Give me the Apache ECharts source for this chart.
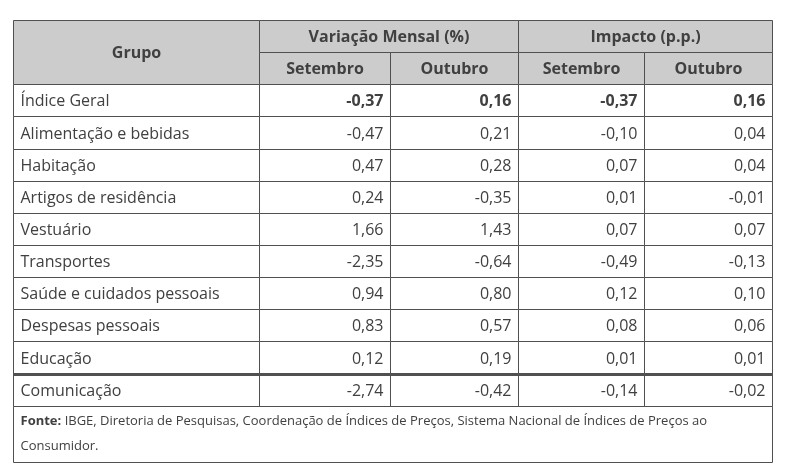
<!DOCTYPE html>
<html>
<head>
<meta charset="utf-8">
<script src="https://cdn.jsdelivr.net/npm/echarts@6/dist/echarts.min.js"></script>
<style>
html,body{margin:0;padding:0;background:#fff;}
#chart{width:788px;height:474px;}
</style>
</head>
<body>
<div id="chart"></div>
<script>
// ---- data ----
var categories = ['Índice Geral', 'Alimentação e bebidas', 'Habitação', 'Artigos de residência', 'Vestuário', 'Transportes', 'Saúde e cuidados pessoais', 'Despesas pessoais', 'Educação', 'Comunicação'];
var varSetembro = [-0.37, -0.47, 0.47, 0.24, 1.66, -2.35, 0.94, 0.83, 0.12, -2.74];
var varOutubro  = [0.16, 0.21, 0.28, -0.35, 1.43, -0.64, 0.80, 0.57, 0.19, -0.42];
var impSetembro = [-0.37, -0.10, 0.07, 0.01, 0.07, -0.49, 0.12, 0.08, 0.01, -0.14];
var impOutubro  = [0.16, 0.04, 0.04, -0.01, 0.07, -0.13, 0.10, 0.06, 0.01, -0.02];
var groupHeaders = ['Grupo', 'Variação Mensal (%)', 'Impacto (p.p.)'];
var monthHeaders = ['Setembro', 'Outubro'];
var sourceBold = 'Fonte:';
var sourceLines = [' IBGE, Diretoria de Pesquisas, Coordenação de Índices de Preços, Sistema Nacional de Índices de Preços ao', 'Consumidor.'];

// ---- layout (table units) ----
var colWidths = [246, 131, 128, 126, 128];
var rowHeights = [1, 1, 1, 1, 1, 1, 1, 1, 1, 1, 1, 1, 1.75];
var colEdges = [0]; colWidths.forEach(function (w) { colEdges.push(colEdges[colEdges.length - 1] + w); });
var rowEdges = [0]; rowHeights.forEach(function (h) { rowEdges.push(rowEdges[rowEdges.length - 1] + h); });

var FONT = 'Open Sans';
var HEAD_FILL = '#cccccc';
var TEXT = '#404040';
var BORDER = '#505050';

function fmt(v) { return v.toFixed(2).replace('.', ','); }

var cells = [];
function addCell(c0, c1, r0, r1, text, opts) {
  opts = opts || {};
  cells.push({ c0: c0, c1: c1, r0: r0, r1: r1, text: text, bold: !!opts.bold, align: opts.align || 'center', fill: opts.fill || '#ffffff', thickTop: !!opts.thickTop, footer: !!opts.footer });
}
// headers
addCell(0, 1, 0, 2, groupHeaders[0], { bold: true, fill: HEAD_FILL });
addCell(1, 3, 0, 1, groupHeaders[1], { bold: true, fill: HEAD_FILL });
addCell(3, 5, 0, 1, groupHeaders[2], { bold: true, fill: HEAD_FILL });
for (var k = 0; k < 4; k++) addCell(1 + k, 2 + k, 1, 2, monthHeaders[k % 2], { bold: true, fill: HEAD_FILL });
// body
var cols = [varSetembro, varOutubro, impSetembro, impOutubro];
categories.forEach(function (name, i) {
  var r = 2 + i;
  var bold = (i === 0);
  var thick = (i === categories.length - 1);
  addCell(0, 1, r, r + 1, name, { align: 'left', thickTop: thick });
  cols.forEach(function (arr, j) {
    addCell(1 + j, 2 + j, r, r + 1, fmt(arr[i]), { align: 'right', bold: bold, thickTop: thick });
  });
});
// footer
addCell(0, 5, 12, 13, '', { align: 'left', footer: true });

var seriesData = cells.map(function (c, i) {
  return [colEdges[c.c0], colEdges[c.c1], rowEdges[c.r0], rowEdges[c.r1], i];
});

function px(v) { return Math.round(v) + 0.5; }

var chart = echarts.init(document.getElementById('chart'), null, { renderer: 'canvas' });
chart.setOption({
  backgroundColor: '#ffffff',
  animation: false,
  grid: { left: 13, top: 20, right: 16, bottom: 12, containLabel: false },
  xAxis: { type: 'value', min: 0, max: colEdges[colEdges.length - 1], show: false },
  yAxis: { type: 'value', min: 0, max: rowEdges[rowEdges.length - 1], inverse: true, show: false },
  series: [{
    type: 'custom',
    coordinateSystem: 'cartesian2d',
    clip: false,
    data: seriesData,
    renderItem: function (params, api) {
      var c = cells[api.value(4)];
      var p0 = api.coord([api.value(0), api.value(2)]);
      var p1 = api.coord([api.value(1), api.value(3)]);
      var x0 = px(p0[0]), y0 = px(p0[1]), x1 = px(p1[0]), y1 = px(p1[1]);
      var children = [{
        type: 'rect',
        shape: { x: x0, y: y0, width: x1 - x0, height: y1 - y0 },
        style: { fill: c.fill, stroke: BORDER, lineWidth: 1 }
      }];
      if (c.thickTop) {
        children.push({
          type: 'line',
          shape: { x1: x0, y1: y0, x2: x1, y2: y0 },
          style: { stroke: BORDER, lineWidth: 3 }
        });
      }
      if (c.footer) {
        children.push({
          type: 'text',
          style: {
            x: x0 + 7, y: y0 + 2,
            text: '{b|' + sourceBold + '}{n|' + sourceLines[0] + '}\n{n|' + sourceLines[1] + '}',
            verticalAlign: 'top', align: 'left',
            rich: {
              b: { fontFamily: FONT, fontSize: 13, fontWeight: 'bold', fill: TEXT, lineHeight: 25 },
              n: { fontFamily: FONT, fontSize: 13, fill: TEXT, lineHeight: 25 }
            }
          }
        });
      } else {
        var tx = c.align === 'left' ? x0 + 7 : (c.align === 'right' ? x1 - 7 : (x0 + x1) / 2);
        children.push({
          type: 'text',
          style: {
            x: tx, y: (y0 + y1) / 2 + 1,
            text: c.text,
            align: c.align, verticalAlign: 'middle',
            fontFamily: FONT, fontSize: 16,
            fontWeight: c.bold ? 'bold' : 'normal',
            fill: TEXT
          }
        });
      }
      return { type: 'group', children: children };
    }
  }]
});
</script>
</body>
</html>
